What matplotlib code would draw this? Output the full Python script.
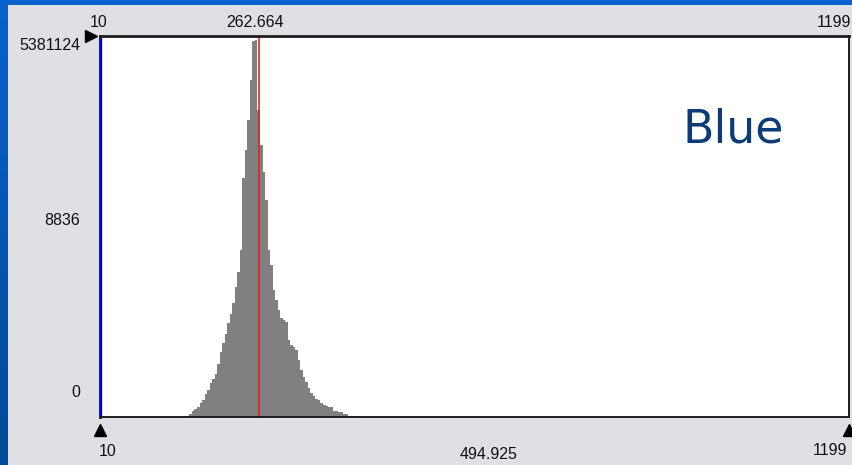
import numpy as np
import matplotlib.pyplot as plt
import matplotlib.transforms as mtransforms
from matplotlib.colors import LinearSegmentedColormap
from matplotlib.patches import Rectangle
from matplotlib.ticker import NullLocator

# histogram of the blue band (pixel counts per 4-value bin)
bin_start = 136
bin_width = 4
counts = [15, 15, 15, 15, 16, 18, 19, 20, 23, 26,
          31, 36, 46, 52, 62, 86, 129, 175, 237, 343,
          464, 673, 1153, 1910, 4003, 45210, 115900, 318100, 1222500, 4500000,
          4702000, 445600, 137200, 55300, 21560, 4003, 2417, 1042, 744, 532,
          406, 380, 360, 194, 164, 153, 138, 99, 70, 56,
          47, 38, 32, 29, 27, 26, 23, 22, 21, 20,
          20, 18, 18, 17, 17, 16, 16, 15, 15, 15,
          15, 15, 15]
edges = bin_start + bin_width * np.arange(len(counts) + 1)

x_min, x_max = 10, 1199
mean_val = 262.664
y_floor, y_max = 14.5, 5381124

top_labels = ["10", "262.664", "1199"]
left_labels = ["5381124", "8836", "0"]
bottom_labels = ["10", "494.925", "1199"]

W, H = 853, 465
fig = plt.figure(figsize=(W / 100, H / 100), dpi=100)

# window background: blue frame and grey dialog panel
bg = fig.add_axes([0, 0, 1, 1])
bg.set_axis_off()
grad = np.linspace(0, 1, 256).reshape(-1, 1)
bg.imshow(grad, aspect="auto", extent=[0, 1, 0, 1], origin="upper",
          cmap=LinearSegmentedColormap.from_list("frame", ["#0a62cc", "#004a98"]))
bg.add_patch(Rectangle((8 / W, 0), 1, (H - 5) / H, color="#e0dfe4", lw=0))
bg.set_xlim(0, 1)
bg.set_ylim(0, 1)

ax = fig.add_axes([100 / W, (H - 417) / H, (849 - 100) / W, (417 - 36) / H])
ax.set_facecolor("white")
ax.fill_between(edges, y_floor, counts + counts[-1:], step="post",
                facecolor="#808080", lw=0, antialiased=False)
ax.set_yscale("log")
ax.set_xlim(x_min, x_max)
ax.set_ylim(y_floor, y_max)
ax.axvline(mean_val, color="#e4241e", lw=1.2)
ax.axvline(x_min, color="#0000c8", lw=2.4)

for axis in (ax.xaxis, ax.yaxis):
    axis.set_major_locator(NullLocator())
    axis.set_minor_locator(NullLocator())
for side in ("top", "bottom", "right"):
    ax.spines[side].set_color("#1e1e1e")
    ax.spines[side].set_linewidth(1.4)
ax.spines["top"].set_linewidth(2.0)
ax.spines["left"].set_color("#0000c8")
ax.spines["left"].set_linewidth(2.0)

lab = dict(family="Liberation Sans", fontsize=11.5, color="#111111")


def px(x, y):
    return x / W, 1 - y / H


# top labels
fig.text(*px(99, 27), top_labels[0], ha="center", va="baseline", **lab)
fig.text(*px(255.5, 27), top_labels[1], ha="center", va="baseline", **lab)
fig.text(*px(817, 27), top_labels[2], ha="left", va="baseline", **lab)

# left labels
fig.text(*px(81, 50), left_labels[0], ha="right", va="baseline", **lab)
fig.text(*px(80, 225), left_labels[1], ha="right", va="baseline", **lab)
fig.text(*px(80, 397), left_labels[2], ha="right", va="baseline", **lab)

# bottom labels
fig.text(*px(107.5, 456), bottom_labels[0], ha="center", va="baseline", **lab)
fig.text(*px(489, 459), bottom_labels[1], ha="center", va="baseline", **lab)
fig.text(*px(830, 455), bottom_labels[2], ha="center", va="baseline", **lab)

# range markers
blend = mtransforms.blended_transform_factory(ax.transData, ax.transAxes)
down = mtransforms.ScaledTranslation(0, -13 / 100, fig.dpi_scale_trans)
left = mtransforms.ScaledTranslation(-9 / 100, 0, fig.dpi_scale_trans)
ax.plot([x_min, x_max], [0, 0], ls="none", marker="^", ms=8, color="black",
        transform=blend + down, clip_on=False)
ax.plot([x_min], [1], ls="none", marker=">", ms=8, color="black",
        transform=blend + left, clip_on=False)

fig.text(*px(683, 142), "Blue", family="DejaVu Sans", fontsize=33,
         color="#0b3c78", ha="left", va="baseline")

fig.savefig("out.png", dpi=100)
